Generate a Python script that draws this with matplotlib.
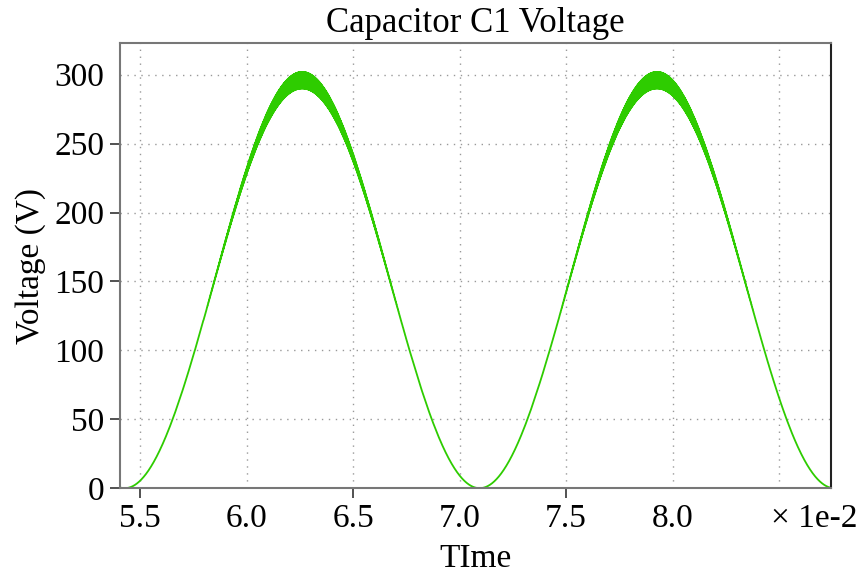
import numpy as np
import matplotlib
matplotlib.use("Agg")
import matplotlib.pyplot as plt

# Waveform parameters
line_freq_hz = 60.0          # supply frequency
peak_voltage = 296.0         # mean peak of the capacitor voltage (V)
ripple_amp = 6.0             # switching ripple amplitude at the peak (V)
ripple_freq_hz = 45000.0     # switching ripple frequency
t_zero = 5.427e-2            # first zero of the waveform (s)
t_begin = 5.403e-2           # start of the record (s)
t_end = 8.745e-2             # end of the record (s)

x_ticks = [5.5, 6.0, 6.5, 7.0, 7.5, 8.0, 8.5]
x_labels = ["5.5", "6.0", "6.5", "7.0", "7.5", "8.0", ""]
y_ticks = [0, 50, 100, 150, 200, 250, 300]
y_labels = ["0", "50", "100", "150", "200", "250", "300"]

t = np.linspace(t_begin, t_end, 400000)
phase = 2 * np.pi * line_freq_hz * (t - t_zero)
base = 0.5 * peak_voltage * (1 - np.cos(phase))
envelope = ripple_amp * (base / peak_voltage) ** 4
v = base + envelope * np.sin(2 * np.pi * ripple_freq_hz * t)
v = np.clip(v, 0, None)

plt.rcParams["font.family"] = ["Liberation Serif", "DejaVu Serif"]

fig = plt.figure(figsize=(8.64, 5.73), dpi=100)
ax = fig.add_axes([0.1385, 0.148, 0.8235, 0.777])

ax.plot(t * 100, v, color="#2ecc00", lw=1.3)

ax.set_xlim(t_begin * 100, t_end * 100)
ax.set_ylim(0, 323)
ax.set_xticks(x_ticks)
ax.set_xticklabels(x_labels)
ax.set_yticks(y_ticks)
ax.set_yticklabels(y_labels)
ax.tick_params(axis="both", labelsize=24, direction="out", length=7,
               width=1.2, color="#333333", pad=4)

# tick marks drawn only at alternating positions
for tk, val in zip(ax.xaxis.get_major_ticks(), x_ticks):
    if val not in (5.5, 6.5, 7.5):
        tk.tick1line.set_visible(False)
for tk, val in zip(ax.yaxis.get_major_ticks(), y_ticks):
    if val in (100, 300):
        tk.tick1line.set_visible(False)

ax.grid(True, linestyle=(0, (1, 4)), color="#999999", linewidth=1.0)
ax.set_axisbelow(True)

for side in ("left", "top", "bottom"):
    ax.spines[side].set_color("#777777")
    ax.spines[side].set_linewidth(1.5)
ax.spines["right"].set_color("#222222")
ax.spines["right"].set_linewidth(1.5)

ax.set_title("Capacitor C1 Voltage", fontsize=25, pad=8)
ax.set_xlabel("TIme", fontsize=24, labelpad=7)
ax.set_ylabel("Voltage (V)", fontsize=24, labelpad=6)

ax.text(0.976, -0.0876, "\u00d7 1e-2", transform=ax.transAxes, fontsize=24,
        ha="center", va="baseline")

fig.savefig("out.png", dpi=100)
